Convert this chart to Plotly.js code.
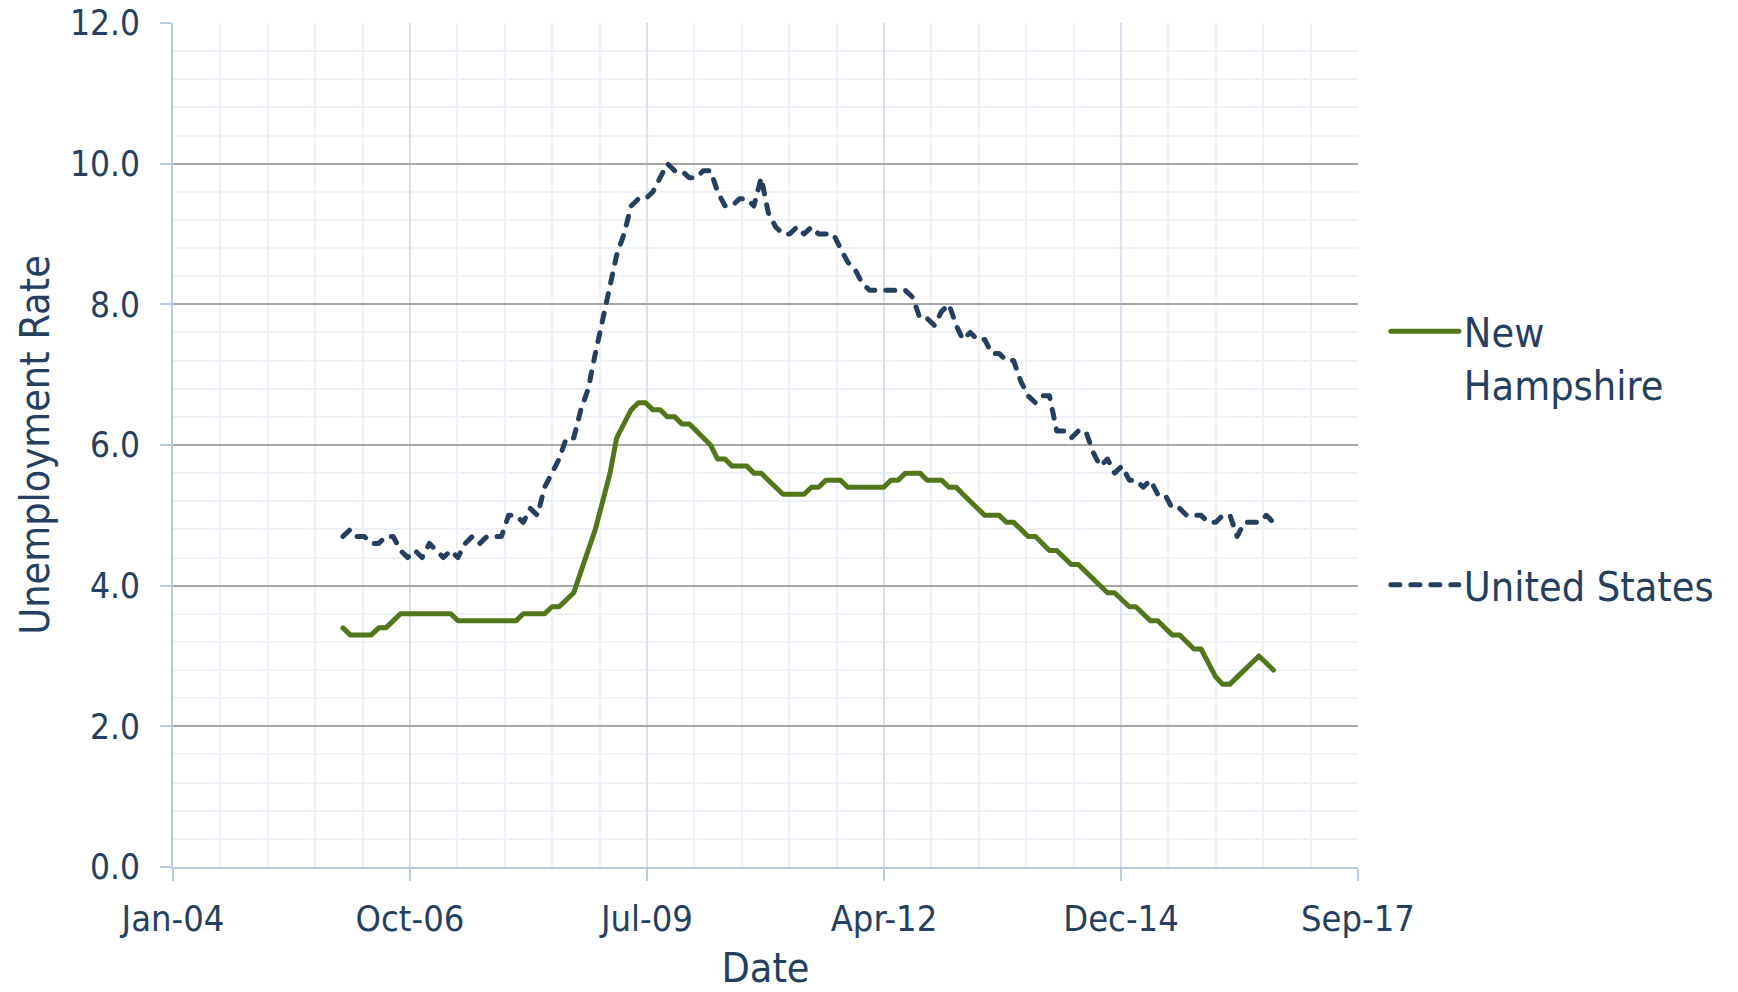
<!DOCTYPE html>
<html>
<head>
<meta charset="utf-8">
<script src="https://cdn.plot.ly/plotly-3.0.1.min.js"></script>
<style>
html,body{margin:0;padding:0;background:#ffffff;}
#chart{width:1738px;height:992px;}
</style>
</head>
<body>
<div id="chart"></div>
<script>
// ---- Data (monthly, Jan 2006 - Oct 2016) ----
const startYear = 2006;
const startMonth = 1;

const seriesNames = ['New<br>Hampshire', 'United States'];

const newHampshire = [
  3.4, 3.3, 3.3, 3.3, 3.3, 3.4, 3.4, 3.5, 3.6, 3.6, 3.6, 3.6,
  3.6, 3.6, 3.6, 3.6, 3.5, 3.5, 3.5, 3.5, 3.5, 3.5, 3.5, 3.5,
  3.5, 3.6, 3.6, 3.6, 3.6, 3.7, 3.7, 3.8, 3.9, 4.2, 4.5, 4.8,
  5.2, 5.6, 6.1, 6.3, 6.5, 6.6, 6.6, 6.5, 6.5, 6.4, 6.4, 6.3,
  6.3, 6.2, 6.1, 6.0, 5.8, 5.8, 5.7, 5.7, 5.7, 5.6, 5.6, 5.5,
  5.4, 5.3, 5.3, 5.3, 5.3, 5.4, 5.4, 5.5, 5.5, 5.5, 5.4, 5.4,
  5.4, 5.4, 5.4, 5.4, 5.5, 5.5, 5.6, 5.6, 5.6, 5.5, 5.5, 5.5,
  5.4, 5.4, 5.3, 5.2, 5.1, 5.0, 5.0, 5.0, 4.9, 4.9, 4.8, 4.7,
  4.7, 4.6, 4.5, 4.5, 4.4, 4.3, 4.3, 4.2, 4.1, 4.0, 3.9, 3.9,
  3.8, 3.7, 3.7, 3.6, 3.5, 3.5, 3.4, 3.3, 3.3, 3.2, 3.1, 3.1,
  2.9, 2.7, 2.6, 2.6, 2.7, 2.8, 2.9, 3.0, 2.9, 2.8
];

const unitedStates = [
  4.7, 4.8, 4.7, 4.7, 4.6, 4.6, 4.7, 4.7, 4.5, 4.4, 4.5, 4.4,
  4.6, 4.5, 4.4, 4.5, 4.4, 4.6, 4.7, 4.6, 4.7, 4.7, 4.7, 5.0,
  5.0, 4.9, 5.1, 5.0, 5.4, 5.6, 5.8, 6.1, 6.1, 6.5, 6.8, 7.3,
  7.8, 8.3, 8.7, 9.0, 9.4, 9.5, 9.5, 9.6, 9.8, 10.0, 9.9, 9.9,
  9.8, 9.8, 9.9, 9.9, 9.6, 9.4, 9.4, 9.5, 9.5, 9.4, 9.8, 9.3,
  9.1, 9.0, 9.0, 9.1, 9.0, 9.1, 9.0, 9.0, 9.0, 8.8, 8.6, 8.5,
  8.3, 8.2, 8.2, 8.2, 8.2, 8.2, 8.2, 8.1, 7.8, 7.8, 7.7, 7.9,
  8.0, 7.7, 7.5, 7.6, 7.5, 7.5, 7.3, 7.3, 7.2, 7.2, 6.9, 6.7,
  6.6, 6.7, 6.7, 6.2, 6.2, 6.1, 6.2, 6.2, 5.9, 5.7, 5.8, 5.6,
  5.7, 5.5, 5.5, 5.4, 5.5, 5.3, 5.3, 5.1, 5.1, 5.0, 5.0, 5.0,
  4.9, 4.9, 5.0, 5.0, 4.7, 4.9, 4.9, 4.9, 5.0, 4.9
];

// monthly date labels for the data points
const dates = newHampshire.map(function(_, i) {
  const idx = (startMonth - 1) + i;
  const y = startYear + Math.floor(idx / 12);
  const m = (idx % 12) + 1;
  return y + '-' + String(m).padStart(2, '0') + '-01';
});

// ---- Styling ----
const TEXT = '#243f60';
const FONT = '"DejaVu Sans Condensed", "DejaVu Sans", sans-serif';
const AXIS_BLUE = '#b9cbe3';
const DAY = 86400000;

const traces = [
  {
    type: 'scatter', mode: 'lines', name: seriesNames[0],
    x: dates, y: newHampshire,
    line: {color: '#52761a', width: 5},
    legend: 'legend', hoverinfo: 'x+y'
  },
  {
    type: 'scatter', mode: 'lines', name: seriesNames[1],
    x: dates, y: unitedStates,
    line: {color: '#243f60', width: 5, dash: '9px,11px'},
    legend: 'legend2', hoverinfo: 'x+y'
  }
];

const legendBase = {
  xanchor: 'left', yanchor: 'middle', x: 1.0235,
  font: {family: FONT, size: 41, color: TEXT},
  bgcolor: 'rgba(0,0,0,0)', borderwidth: 0,
  itemwidth: 68, valign: 'top', itemclick: false, itemdoubleclick: false
};

const layout = {
  width: 1738, height: 992,
  paper_bgcolor: '#ffffff', plot_bgcolor: '#ffffff',
  margin: {l: 173, r: 380, t: 23, b: 125, pad: 0},
  font: {family: FONT, color: TEXT},
  showlegend: true,
  legend: Object.assign({}, legendBase, {y: 0.603}),
  legend2: Object.assign({}, legendBase, {y: 0.334}),
  xaxis: {
    type: 'date',
    range: ['2004-01-15', '2017-09-23 02:00'],
    tick0: '2004-01-15', dtick: 1000 * DAY,
    tickformat: '%b-%y',
    ticks: 'outside', ticklen: 12, tickwidth: 2, tickcolor: AXIS_BLUE,
    showline: true, linecolor: AXIS_BLUE, linewidth: 2,
    showgrid: true, gridcolor: '#d6e0ee', gridwidth: 2,
    minor: {tick0: '2004-01-15', dtick: 200 * DAY, showgrid: true, gridcolor: '#eef2f8', gridwidth: 2, ticks: ''},
    zeroline: false,
    tickfont: {family: FONT, size: 36, color: TEXT},
    ticklabelstandoff: 7,
    title: {text: 'Date', font: {family: FONT, size: 41, color: TEXT}, standoff: 37},
    automargin: false
  },
  yaxis: {
    range: [0, 12], tick0: 0, dtick: 2, tickformat: '.1f',
    ticks: 'outside', ticklen: 11, tickwidth: 2, tickcolor: AXIS_BLUE,
    showline: true, linecolor: AXIS_BLUE, linewidth: 2,
    showgrid: true, gridcolor: '#a6a6a6', gridwidth: 2,
    minor: {tick0: 0, dtick: 0.4, showgrid: true, gridcolor: '#eef2f8', gridwidth: 2, ticks: ''},
    zeroline: false,
    tickfont: {family: FONT, size: 35, color: TEXT},
    ticklabelstandoff: 13,
    title: {text: 'Unemployment Rate', font: {family: FONT, size: 41, color: TEXT}, standoff: 8},
    automargin: false
  }
};

function styleLines() {
  document.querySelectorAll('#chart .scatterlayer .js-line').forEach(function(p) {
    p.style.strokeLinecap = 'round';
    p.style.strokeLinejoin = 'round';
  });
  document.querySelectorAll('#chart .legendlines path').forEach(function(p) {
    p.setAttribute('d', 'M5,0h68');
    p.style.strokeLinecap = 'round';
  });
}

const gd = document.getElementById('chart');
Plotly.newPlot(gd, traces, layout, {displayModeBar: false, staticPlot: true}).then(function() {
  styleLines();
  gd.on('plotly_afterplot', styleLines);
});
</script>
</body>
</html>
